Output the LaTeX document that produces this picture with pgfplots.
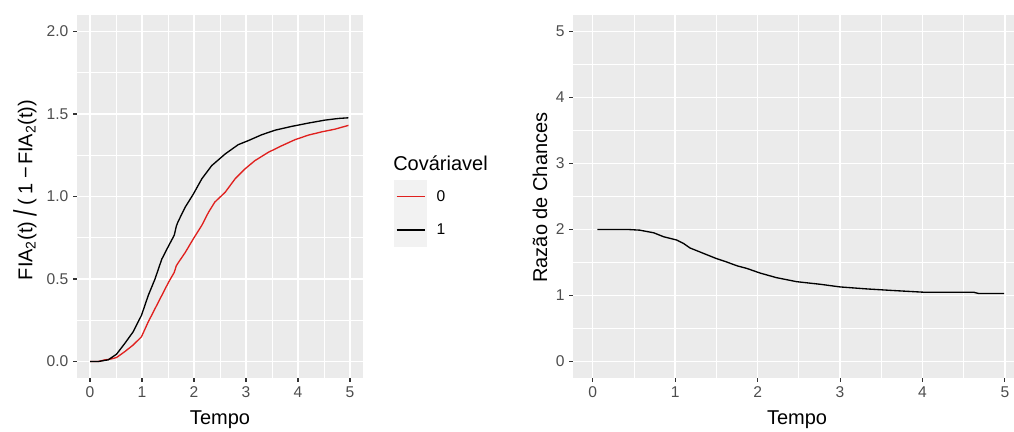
\documentclass[border=0pt]{standalone}
\usepackage{graphicx}
\usepackage{fontspec}
\setmainfont{Liberation Sans}
\usepackage{pgfplots}
\pgfplotsset{compat=1.18}
\definecolor{panelbg}{HTML}{EBEBEB}
\definecolor{tickgrey}{HTML}{333333}
\definecolor{labgrey}{HTML}{4D4D4D}
\definecolor{keybg}{HTML}{F2F2F2}
\definecolor{cred}{HTML}{E0201E}
\pgfplotsset{
  ggbase/.style={
    anchor=south west, scale only axis,
    axis background/.style={fill=panelbg},
    axis line style={draw=none},
    grid=both,
    major grid style={white, line width=1.1pt},
    minor grid style={white, line width=0.55pt},
    tick align=outside,
    xtick pos=lower, ytick pos=left,
    major tick length=3pt, minor tick length=0pt,
    tick style={color=tickgrey, line width=0.8pt},
    ticklabel style={font=\fontsize{11.7}{14}\selectfont, color=labgrey},
    label style={font=\fontsize{15}{18}\selectfont, color=black},
    /pgf/number format/assume math mode=true,
  }
}
\begin{document}
\begin{tikzpicture}
\path[use as bounding box] (0,0) rectangle (760.5pt,324pt);
% left panel
\begin{axis}[ggbase,
  at={(57.75pt,40.5pt)}, width=214.5pt, height=272.25pt,
  xmin=-0.25, xmax=5.25, ymin=-0.1, ymax=2.1,
  xtick={0,1,2,3,4,5}, xticklabels={0,1,2,3,4,5},
  ytick={0,0.5,1,1.5,2}, yticklabels={0.0,0.5,1.0,1.5,2.0},
  minor xtick={0.5,1.5,2.5,3.5,4.5},
  minor ytick={0.25,0.75,1.25,1.75},
  xlabel={Tempo},
  xlabel style={at={(axis description cs:0.5,-0.1157)}, anchor=center},
  ylabel={FIA\textsubscript{2}(t)\hspace{0.25em}\raisebox{-0.2em}{\scalebox{1.15}[1.6]{/}}\hspace{0.25em}(\hspace{0.2em}1\hspace{0.25em}−\hspace{0.1em}FIA\textsubscript{2}(t))},
  ylabel style={at={(axis description cs:-0.182,0.518)}, anchor=center},
  legend style={at={(axis description cs:1.108,0.545)}, anchor=north west,
    draw=none, fill=none, font=\fontsize{11.7}{14}\selectfont,
    row sep=0pt, inner sep=0pt, outer sep=0pt,
    nodes={inner sep=0pt},
    /tikz/every odd column/.append style={column sep=7pt}},
  legend image code/.code={
    \fill[keybg] (0pt,-12pt) rectangle (24pt,12pt);
    \draw[#1, line width=1pt] (1.5pt,0pt) -- (22.5pt,0pt);},
]
\addplot[cred, line width=1pt] coordinates {
(0,0) (0.16,0) (0.29,0.01) (0.4,0.015) (0.51,0.024) (0.67,0.06) (0.83,0.10) (0.99,0.15)
(1.12,0.24) (1.25,0.32) (1.38,0.40) (1.51,0.48) (1.62,0.54) (1.66,0.58) (1.70,0.60)
(1.83,0.66) (1.99,0.745) (2.15,0.825) (2.28,0.905) (2.40,0.966) (2.60,1.026)
(2.79,1.107) (2.98,1.167) (3.17,1.217) (3.43,1.268) (3.69,1.308) (3.94,1.344)
(4.20,1.372) (4.46,1.392) (4.71,1.408) (4.97,1.431)};
\addlegendentry{0}
\addplot[black, line width=1pt] coordinates {
(0,0) (0.16,0) (0.35,0.01) (0.51,0.044) (0.67,0.11) (0.83,0.18) (0.99,0.28)
(1.12,0.40) (1.25,0.50) (1.38,0.62) (1.51,0.70) (1.62,0.765) (1.66,0.82) (1.69,0.845)
(1.83,0.935) (1.99,1.016) (2.15,1.107) (2.34,1.187) (2.60,1.258) (2.85,1.314)
(3.04,1.338) (3.30,1.374) (3.56,1.402) (3.88,1.425) (4.20,1.445) (4.52,1.463)
(4.78,1.473) (4.97,1.477)};
\addlegendentry{1}
\end{axis}
\node[anchor=west, font=\fontsize{15}{18}\selectfont, inner sep=0pt] at (294.75pt,201.75pt) {Cováriavel};
% right panel
\begin{axis}[ggbase,
  at={(430pt,40.5pt)}, width=330.5pt, height=272.25pt,
  xmin=-0.235, xmax=5.11, ymin=-0.25, ymax=5.25,
  xtick={0,1,2,3,4,5}, xticklabels={0,1,2,3,4,5},
  ytick={0,1,2,3,4,5}, yticklabels={0,1,2,3,4,5},
  minor xtick={0.5,1.5,2.5,3.5,4.5},
  minor ytick={0.5,1.5,2.5,3.5,4.5},
  xlabel={Tempo},
  xlabel style={at={(axis description cs:0.5076,-0.1157)}, anchor=center},
  ylabel={Razão de Chances},
  ylabel style={at={(axis description cs:-0.0756,0.497)}, anchor=center},
]
\addplot[black, line width=1pt] coordinates {
(0.057,2.0) (0.43,2.0) (0.57,1.99) (0.74,1.95) (0.86,1.89) (1.02,1.84) (1.10,1.79)
(1.18,1.72) (1.34,1.64) (1.50,1.56) (1.62,1.51) (1.75,1.45) (1.87,1.41) (2.03,1.34)
(2.23,1.27) (2.47,1.21) (2.76,1.17) (3.00,1.13) (3.32,1.10) (3.65,1.075) (4.01,1.05)
(4.62,1.05) (4.68,1.03) (4.99,1.03)};
\end{axis}
\end{tikzpicture}
\end{document}
